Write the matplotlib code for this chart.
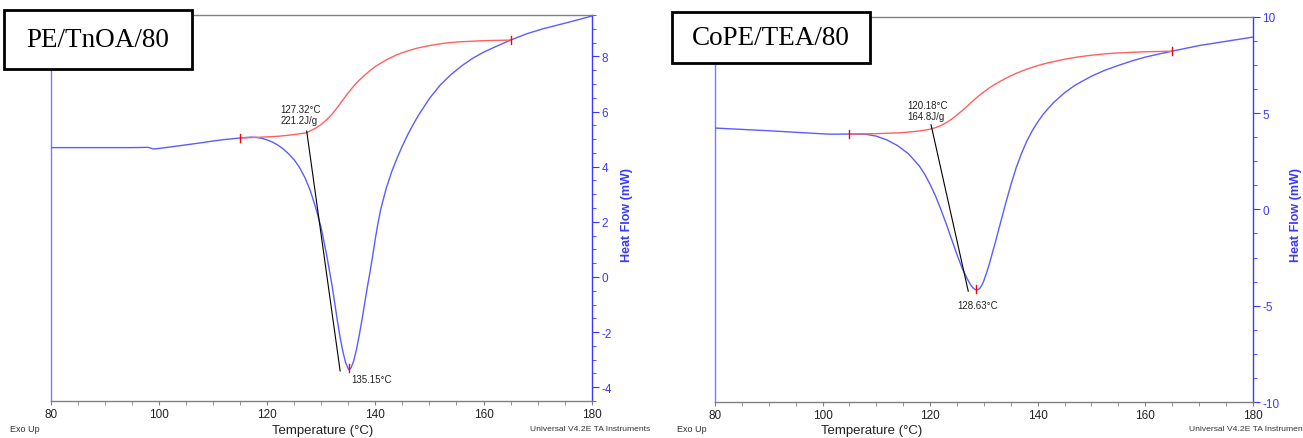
import matplotlib
matplotlib.use("Agg")
import matplotlib.pyplot as plt
from matplotlib.patches import Rectangle
from matplotlib.ticker import MultipleLocator

plt.rcParams['font.family'] = ['Liberation Sans', 'DejaVu Sans']
plt.rcParams['axes.unicode_minus'] = False

# ---------------- data: left panel (PE/TnOA/80) ----------------
left_T = [80, 85, 90, 95, 98, 99, 100, 102, 105, 108, 110, 112, 115, 117, 118, 119,
          120, 121, 122, 123, 124, 125, 126, 127, 128, 129, 130, 131, 132, 133, 133.5,
          134, 134.5, 135, 135.15, 135.5, 136, 136.5, 137, 137.5, 138, 138.5, 139,
          139.5, 140, 140.5, 141, 142, 143, 144, 145, 146, 147, 148, 150, 152, 154, 156,
          158, 160, 162, 165, 168, 171, 175, 180]
left_HF = [4.69, 4.69, 4.69, 4.69, 4.70, 4.64, 4.66, 4.71, 4.79, 4.87, 4.93, 4.98, 5.04,
           5.07, 5.06, 5.03, 4.97, 4.89, 4.78, 4.64, 4.46, 4.25, 3.97, 3.60, 3.12, 2.50,
           1.78, 0.80, -0.30, -1.60, -2.20, -2.70, -3.10, -3.33, -3.37, -3.30, -3.05,
           -2.65, -2.15, -1.60, -1.00, -0.40, 0.15, 0.75, 1.38, 1.95, 2.45, 3.20, 3.80,
           4.30, 4.75, 5.16, 5.53, 5.87, 6.47, 6.96, 7.34, 7.66, 7.93, 8.15, 8.33, 8.59,
           8.82, 9.00, 9.20, 9.46]
left_base_T = [115, 118, 120, 122, 124, 126, 127.32, 128, 129, 130, 131, 132, 133, 134,
               135, 136, 137, 138, 139, 140, 142, 144, 146, 148, 150, 152.5, 155, 160, 165]
left_base_HF = [5.04, 5.06, 5.08, 5.10, 5.14, 5.19, 5.23, 5.30, 5.40, 5.53, 5.70, 5.90,
                6.15, 6.42, 6.68, 6.92, 7.13, 7.31, 7.48, 7.63, 7.87, 8.06, 8.20, 8.31,
                8.39, 8.47, 8.52, 8.57, 8.59]
left_onset_T = [127.32, 133.5]
left_onset_HF = [5.29, -3.41]
left_peak = (135.15, -3.37)
left_limits = [115, 165]
left_title = "PE/TnOA/80"
left_onset_label = "127.32°C\n221.2J/g"
left_peak_label = "135.15°C"

# ---------------- data: right panel (CoPE/TEA/80) ----------------
right_T = [80, 85, 90, 95, 100, 102, 105, 108, 110, 112, 114, 116, 118, 119, 120, 121,
           122, 123, 124, 125, 126, 127, 127.5, 128, 128.63, 129.2, 129.7, 130, 130.5,
           131, 132, 133, 134, 135, 136, 137, 138, 139, 140, 141, 142, 143, 145, 147,
           150, 152.5, 155, 157.5, 160, 162.5, 165, 170, 175, 180]
right_HF = [4.22, 4.15, 4.08, 4.00, 3.92, 3.90, 3.91, 3.90, 3.80, 3.60, 3.30, 2.88, 2.25,
            1.82, 1.30, 0.70, 0.00, -0.75, -1.55, -2.35, -3.08, -3.65, -3.90, -4.08,
            -4.20, -4.12, -3.90, -3.70, -3.30, -2.85, -1.85, -0.80, 0.25, 1.25, 2.15,
            2.90, 3.55, 4.08, 4.53, 4.92, 5.25, 5.55, 6.05, 6.45, 6.91, 7.22, 7.47,
            7.70, 7.90, 8.06, 8.21, 8.50, 8.72, 8.94]
right_base_T = [105, 108, 110, 112, 114, 116, 118, 119, 120, 121, 122, 123, 124, 125,
                126, 127, 128, 129, 130, 131, 132, 133, 134, 135, 136, 138, 140, 142,
                145, 147.5, 150, 152.5, 155, 160, 165]
right_base_HF = [3.91, 3.92, 3.93, 3.95, 3.97, 4.01, 4.07, 4.11, 4.16, 4.24, 4.35, 4.50,
                 4.68, 4.90, 5.13, 5.38, 5.64, 5.88, 6.10, 6.30, 6.48, 6.64, 6.79, 6.93,
                 7.06, 7.28, 7.46, 7.61, 7.79, 7.91, 8.00, 8.07, 8.12, 8.18, 8.21]
right_onset_T = [120.18, 127.1]
right_onset_HF = [4.39, -4.25]
right_peak = (128.63, -4.20)
right_limits = [105, 165]
right_title = "CoPE/TEA/80"
right_onset_label = "120.18°C\n164.8J/g"
right_peak_label = "128.63°C"

x_ticks = [80, 100, 120, 140, 160, 180]

W, H = 1303, 439
fig = plt.figure(figsize=(W / 100, H / 100), dpi=100)

BLUE_CURVE = '#5c5cff'
RED = '#ff6060'
BLUE_AX = '#3a3aff'


def px(x, y):
    return x / W, 1 - y / H


def make_panel(rect, ylim, ymajor, T, HF, bT, bHF, oT, oHF, peak, lims,
               onset_lbl, onset_pos, peak_lbl, peak_pos, tick_h):
    ax = fig.add_axes(rect)
    ax.plot(T, HF, color=BLUE_CURVE, lw=1.0, zorder=3)
    ax.plot(bT, bHF, color=RED, lw=1.0, zorder=3)
    ax.plot(oT, oHF, color='black', lw=0.8, zorder=4)
    # red limit ticks
    for t, yv in [(lims[0], bHF[0]), (lims[1], bHF[-1])]:
        ax.plot([t, t], [yv - tick_h, yv + tick_h], color='red', lw=1.0, zorder=5)
    ax.plot([peak[0], peak[0]], [peak[1] - tick_h * 0.6, peak[1] + tick_h * 1.3],
            color='red', lw=1.0, zorder=5)
    ax.text(onset_pos[0], onset_pos[1], onset_lbl, fontsize=7, color='#222222',
            ha='left', va='bottom', linespacing=1.1)
    ax.text(peak_pos[0], peak_pos[1], peak_lbl, fontsize=7, color='#222222',
            ha='left', va='center')
    ax.set_xlim(80, 180)
    ax.set_ylim(*ylim)
    ax.set_xticks(x_ticks)
    ax.xaxis.set_minor_locator(MultipleLocator(5))
    ax.yaxis.set_major_locator(MultipleLocator(ymajor))
    ax.yaxis.set_minor_locator(MultipleLocator(ymajor / 4))
    ax.yaxis.tick_right()
    ax.tick_params(axis='x', which='both', direction='out', colors='#808080',
                   labelcolor='#222222', labelsize=8.5, pad=2, length=3)
    ax.tick_params(axis='y', which='both', direction='out', colors=BLUE_AX,
                   labelcolor=BLUE_AX, labelsize=8.5, pad=2)
    ax.tick_params(axis='y', which='major', length=5)
    ax.tick_params(axis='y', which='minor', length=3)
    ax.spines['left'].set_color('#7a7aff')
    ax.spines['right'].set_color(BLUE_AX)
    ax.spines['top'].set_color('#808080')
    ax.spines['bottom'].set_color('#808080')
    for s in ax.spines.values():
        s.set_linewidth(1.0)
    return ax


axL = make_panel([50.7 / W, 1 - 402 / H, 541 / W, 386 / H], (-4.5, 9.5), 2,
                 left_T, left_HF, left_base_T, left_base_HF, left_onset_T,
                 left_onset_HF, left_peak, left_limits, left_onset_label,
                 (122.4, 5.50), left_peak_label, (135.6, -3.70), 0.15)
axR = make_panel([715 / W, 1 - 403 / H, 537.7 / W, 385.3 / H], (-10, 10), 5,
                 right_T, right_HF, right_base_T, right_base_HF, right_onset_T,
                 right_onset_HF, right_peak, right_limits, right_onset_label,
                 (115.8, 4.58), right_peak_label, (125.1, -4.95), 0.22)

# axis labels and footer texts
for cx, hx, exo, uni in [(323, 627, 10, 530), (872, 1296, 677, 1189)]:
    fig.text(*px(cx, 431), "Temperature (°C)", fontsize=9.5, color='#222222',
             ha='center', va='center')
    fig.text(*px(hx, 215), "Heat Flow (mW)", fontsize=9, color=BLUE_AX,
             rotation=90, ha='center', va='center', fontweight='bold')
    fig.text(*px(exo, 430), "Exo Up", fontsize=6.5, color='#333333',
             ha='left', va='center')
    fig.text(*px(uni, 430), "Universal V4.2E TA Instruments", fontsize=6.1,
             color='#333333', ha='left', va='center')

# title boxes
for (x0, y0, x1, y1, title) in [(4, 11, 192, 70, left_title),
                                (672, 13, 870, 64, right_title)]:
    fx0, fy1 = px(x0, y0)
    fx1, fy0 = px(x1, y1)
    fig.patches.append(Rectangle((fx0, fy0), fx1 - fx0, fy1 - fy0,
                                 transform=fig.transFigure, facecolor='white',
                                 edgecolor='black', lw=2, zorder=10))
    fig.text((fx0 + fx1) / 2, (fy0 + fy1) / 2, title, fontsize=19.5,
             family=['Liberation Serif', 'DejaVu Serif'], ha='center',
             va='center', zorder=11)

fig.savefig("out.png", dpi=100)
